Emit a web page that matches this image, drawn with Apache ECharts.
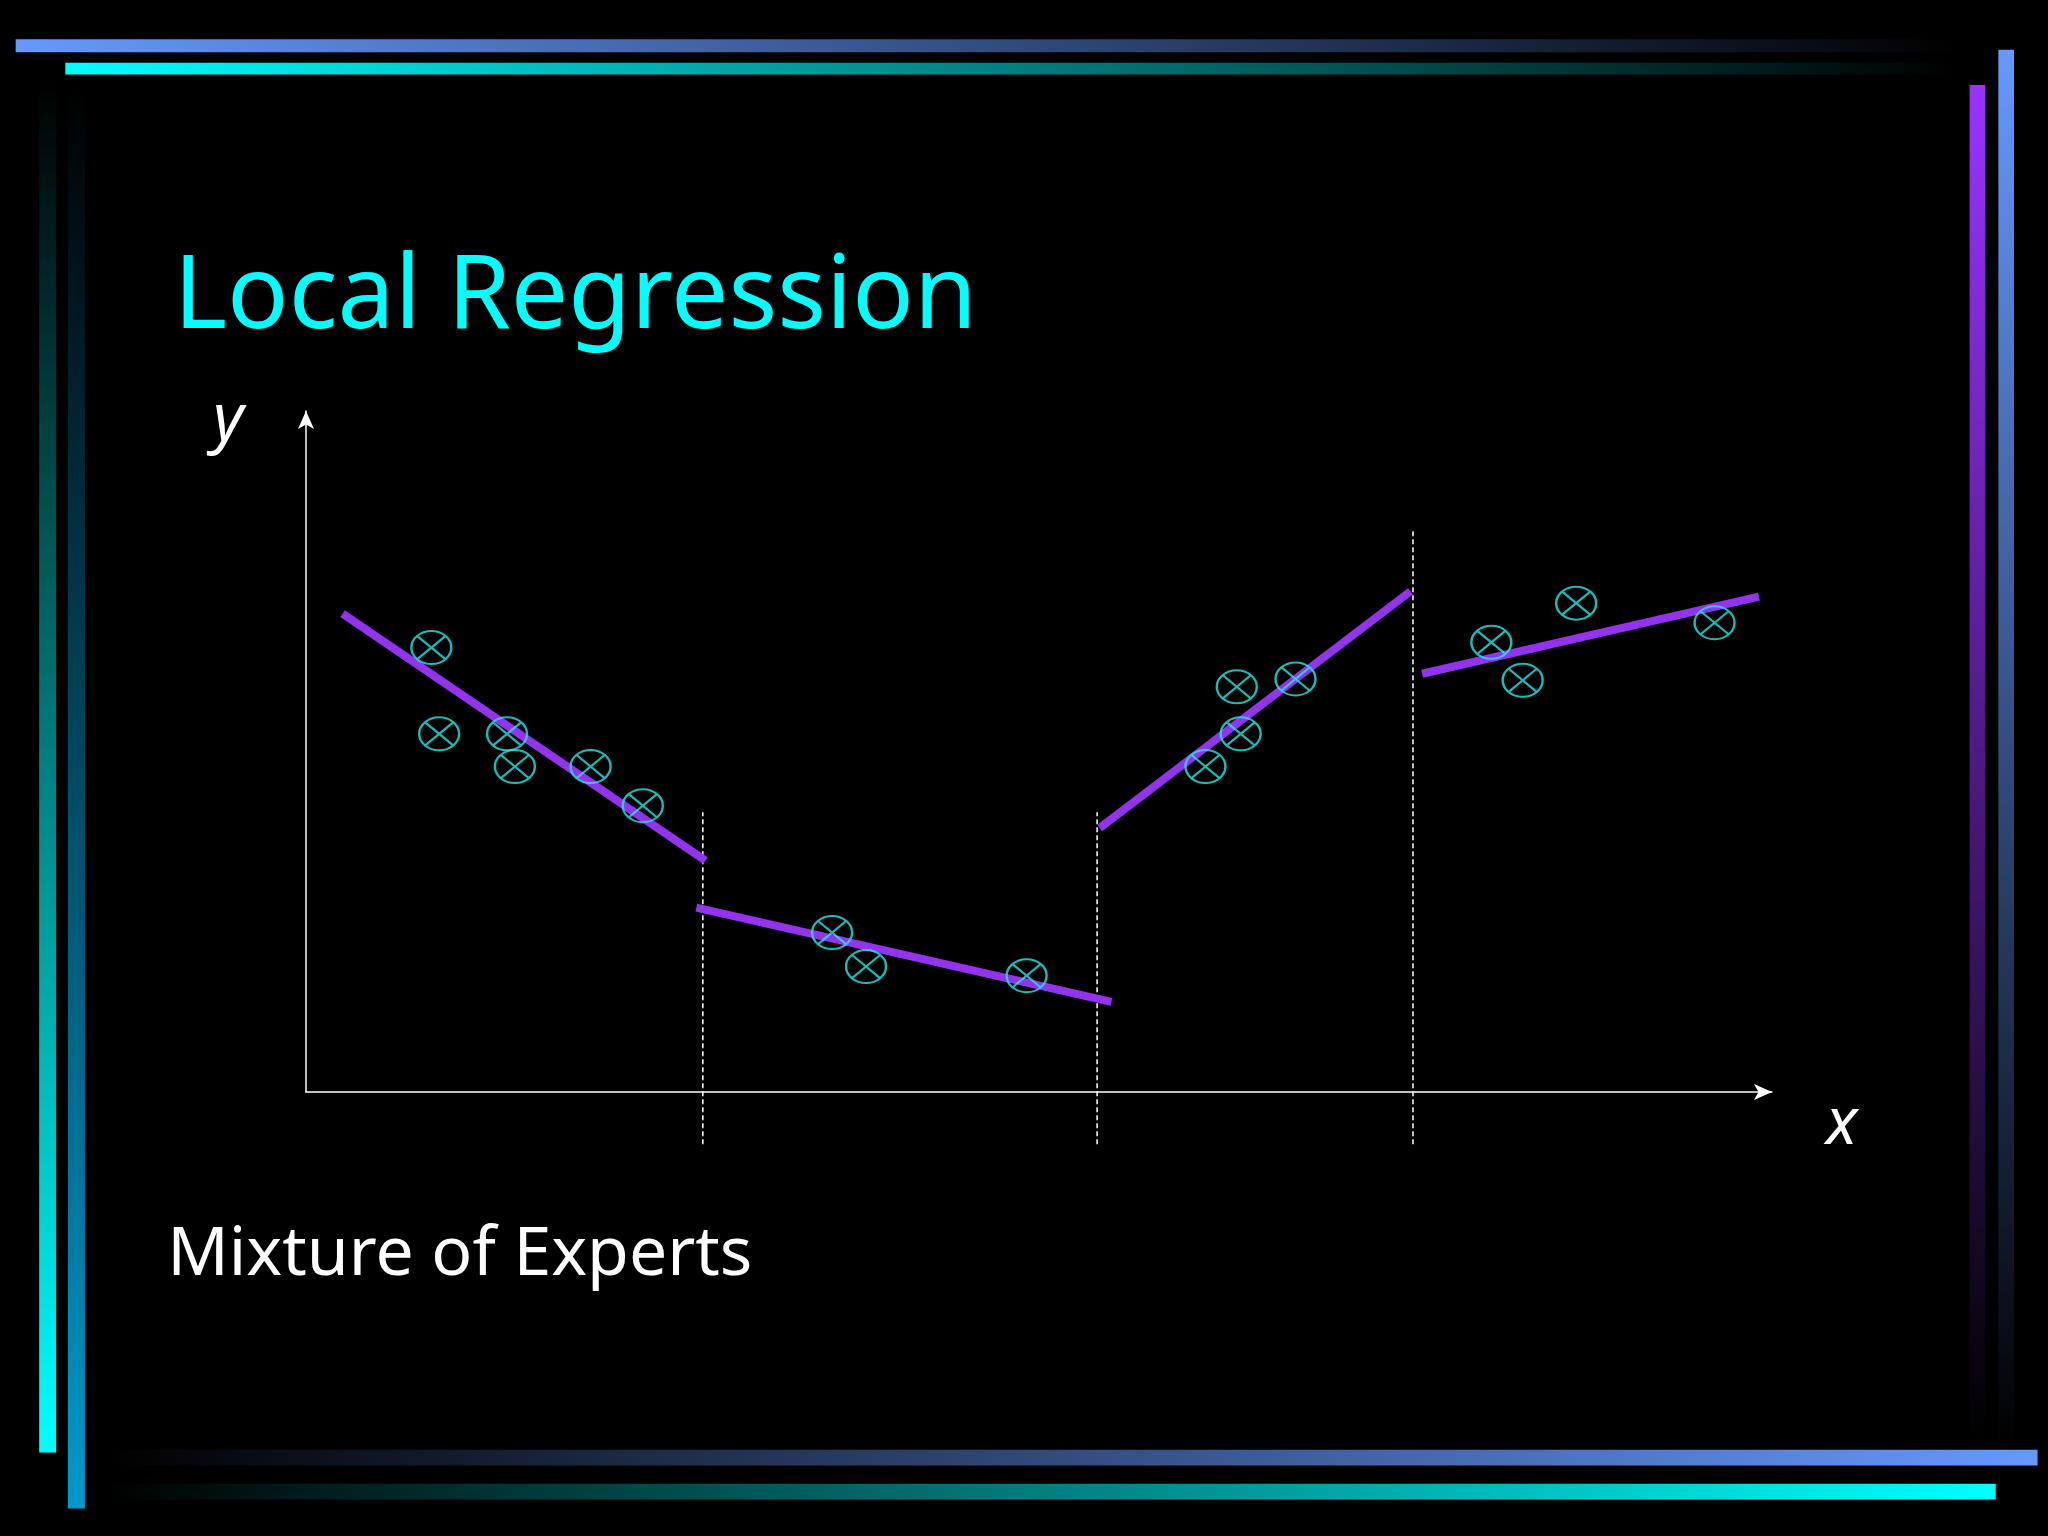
<!DOCTYPE html>
<html>
<head>
<meta charset="utf-8">
<script src="https://cdn.jsdelivr.net/npm/echarts@6/dist/echarts.min.js"></script>
<style>html,body{margin:0;padding:0;background:#000;}#chart{width:2048px;height:1536px;}</style>
</head>
<body>
<div id="chart"></div>
<script>
// sample points (x, y)
var points = [[96,340],[102,274],[154,274],[160,249],[218,249],[258,219],
  [403,122],[429,96],[552,89],
  [689,249],[713,310],[716,274],[758,316],
  [908,344],[932,315],[973,374],[1079,359]];
// local fits, one segment per expert
var fits = [
  [[28,366],[306,177]],
  [[299,141],[617,69]],
  [[608,202],[846,383]],
  [[855,320],[1113,379]]
];
// region boundaries
var splits = [[304,214],[606,214],[848,431]];

var S = 2048/1568;
function s(v){ return v*S; }
function bar(x,y,w,h,stops,vertical){
  return {type:'rect',shape:{x:s(x),y:s(y),width:s(w),height:s(h)},
    style:{fill:new echarts.graphic.LinearGradient(0,0,vertical?0:1,vertical?1:0,stops)}};
}

var series = [];
fits.forEach(function(f){
  series.push({type:'line',data:f,symbol:'none',clip:false,lineStyle:{color:'#9333ee',width:8},z:2});
});
splits.forEach(function(d){
  series.push({type:'line',data:[[d[0],-40],[d[0],d[1]]],symbol:'none',clip:false,
    lineStyle:{color:'#ffffff',width:1.5,type:[5,3]},z:1});
});
series.push({type:'scatter',data:points,clip:false,
  symbol:'path://M0,-1 A1,1 0 1,1 0,1 A1,1 0 1,1 0,-1 Z M-0.707,-0.707 L0.707,0.707 M0.707,-0.707 L-0.707,0.707',
  symbolSize:[40,33],itemStyle:{color:'rgba(0,0,0,0)',borderColor:'#22eaea',borderWidth:2.2},z:3});

var chart = echarts.init(document.getElementById('chart'));
chart.setOption({
  backgroundColor:'#000',
  animation:false,
  grid:{left:306,right:276,top:411,bottom:444},
  xAxis:{type:'value',min:0,max:1123,splitLine:{show:false},axisLabel:{show:false},axisTick:{show:false},
    axisLine:{onZero:false,symbol:['none','arrow'],symbolSize:[12,18],lineStyle:{color:'#fff',width:1.5}}},
  yAxis:{type:'value',min:0,max:521,splitLine:{show:false},axisLabel:{show:false},axisTick:{show:false},
    axisLine:{show:true,onZero:false,symbol:['none','arrow'],symbolSize:[12,18],lineStyle:{color:'#fff',width:1.5}}},
  series:series,
  graphic:[
    bar(12,30,1490,10,[{offset:0,color:'#6699ff'},{offset:1,color:'#000'}]),
    bar(50,48,1450,9,[{offset:0,color:'#00ffff'},{offset:1,color:'#000'}]),
    bar(1508,65,12,1040,[{offset:0,color:'#9933ff'},{offset:1,color:'#000'}],true),
    bar(1530,38,12,1072,[{offset:0,color:'#6699ff'},{offset:1,color:'#000'}],true),
    bar(30,60,13,1052,[{offset:0,color:'#000'},{offset:1,color:'#00ffff'}],true),
    bar(52,65,13,1090,[{offset:0,color:'#000'},{offset:1,color:'#0099cc'}],true),
    bar(80,1110,1480,12,[{offset:0,color:'#000'},{offset:1,color:'#6699ff'}]),
    bar(80,1136,1448,12,[{offset:0,color:'#000'},{offset:1,color:'#00ffff'}]),
    {type:'text',left:s(133),top:s(190),style:{text:'Local Regression',fill:'#00ffff',font:s(78)+'px "Noto Sans"'}},
    {type:'text',left:s(128),top:s(935),style:{text:'Mixture of Experts',fill:'#ffffff',font:s(52)+'px "Noto Sans"'}},
    {type:'text',left:s(163),top:s(298),style:{text:'y',fill:'#ffffff',font:'italic '+s(50)+'px "Noto Sans"'}},
    {type:'text',left:s(1398),top:s(837),style:{text:'x',fill:'#ffffff',font:'italic '+s(50)+'px "Noto Sans"'}}
  ]
});
</script>
</body>
</html>
